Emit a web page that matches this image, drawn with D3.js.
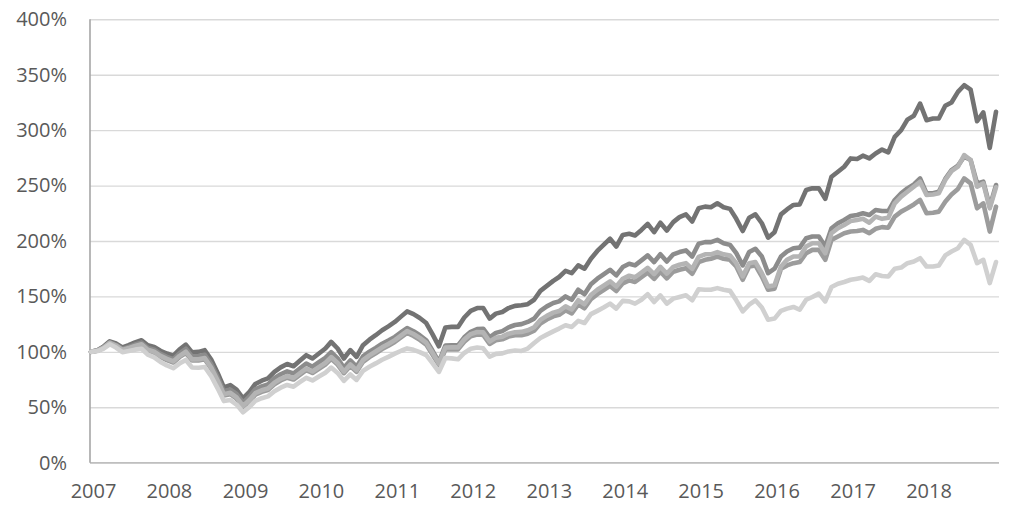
<!DOCTYPE html>
<html><head><meta charset="utf-8">
<script src="https://cdn.jsdelivr.net/npm/d3@7"></script>
<style>html,body{margin:0;background:#fff;}svg{display:block;}</style>
</head><body>
<svg id="chart" width="1024" height="512"></svg>
<script>
// Tick values
const yTicks = [0, 50, 100, 150, 200, 250, 300, 350, 400];
const yearLabels = [2007, 2008, 2009, 2010, 2011, 2012, 2013, 2014, 2015, 2016, 2017, 2018];

// Monthly series, Jan 2007 .. Dec 2018 (%)
const seriesA = [100,101.5,104.5,109.5,107.5,104,106,108.5,110.5,106,104.5,101,
98.5,96.5,102,106.5,99.5,100,101.5,93,81,68,70,66,
58,64,71,74,76,82,86,89,87,92,97,94,
98.5,103,109,103,94,101.5,95.5,106,111,115,119.5,123,
127,132,136.5,134,130.5,126,116,105,122,122.5,122.5,131,
137,139.5,139.5,130,134.5,136,139.5,141.5,142,143,147,155,
159.5,164,167.5,173,171,178,175,184,191,196.5,202,195,
205.5,206.5,205,210,215.5,208,216.5,209.5,217,221.5,224,217.5,
229.5,231,230.5,234,230.5,229,220,209,221,224,216,203,
208,224,228.5,232.5,233,246,247.5,247.5,238,258,262.5,267,
274.5,274,277,274.5,279,282.5,280,294,300,309.5,313,324,
309,310.5,310.5,322,325,334.5,340.5,336.5,308,316,284,316.5];

const seriesB = [100,101.2,104,108.7,106.4,102.7,104.4,106.6,108.3,103.6,101.9,98.2,
95.5,93.4,98.6,102.8,95.8,96.2,97.4,88.9,77.1,64.4,66,62,
54.2,59.8,66.2,68.9,70.7,76.2,79.8,82.4,80.5,85,89.5,86.6,
90.6,94.6,99.8,94.1,85.6,92.3,86.6,95.9,100.2,103.6,107.3,110.2,
113.5,117.7,121.5,118.6,115,110.4,101.2,91,105.7,106,105.8,113.1,
118.1,120.5,120.9,113,117.1,118.7,122.1,124.2,125,127,130,137,
141,144,145.5,150,147,156,152,161,166,170,174,169,
176.5,179.5,178,182.5,187,181,188,181.5,188,190,191.5,186,
197.5,199,199,201,198,196.5,189,178,190,193,186,171,
175,186,190.5,193.5,194,202.5,204,204,195,211.5,216,219,
222.5,223.5,225,223.5,228,227,227,237,243,247.5,251,256.5,
243,243,244.5,256,264,268,276,273,252,253.5,231,250.5];

const seriesC = [100,101.1,103.6,108.1,105.7,101.8,103.4,105.4,106.8,102,100.1,96.4,
93.6,91.4,96.2,100.1,93.2,93.3,94.4,85.8,74.1,61.7,63,58.9,
51.3,56.6,62.7,65.3,67,72.2,75.7,78.2,76.4,80.7,85,82.3,
86.2,90.1,95.3,90,82.1,88.6,83.4,92.5,96.8,100.3,104.1,107.1,
110.6,114.9,118.8,116.1,112.6,108.3,99.2,89.5,103.8,104.1,104,111.1,
116,117.9,117.6,109.3,112.8,113.7,116.4,117.7,118,119.4,122.2,128.8,
132.5,135.4,136.8,141,138.2,146.6,142.9,151.3,156,159.8,163.6,158.9,
165.9,168.7,167.3,171.6,175.8,170.1,176.7,170.6,176.7,178.6,180,174.8,
185.7,188,188,190,188,187,180,168,180,181,171,159,
160,177,183,186,186,195,198,198,189,207,211.5,214.5,
218,219,220,216.5,222,220,221,234,240,244.5,249,253.5,
241.5,242,243,255,263,267,277.5,273,249,252,229.5,248.5];

const seriesE = [100,101,103.5,107.9,105.4,101.4,102.8,104.7,106.1,101.2,99.3,95.4,
92.6,90.4,95.2,99,92.2,92.3,93.4,84.7,73,60.7,61.8,57.7,
50.2,55.3,61.4,63.9,65.6,70.8,74.2,76.7,75,79.2,83.5,80.9,
84.7,88.6,93.7,88.5,80.8,87.2,82,91,95.3,98.7,102.5,105.5,
108.9,113.2,117,114.3,110.8,106.5,97.6,88,102.1,102.4,102.2,109.1,
114,115.7,115.3,107.1,110.4,111.3,113.8,115,115,116.4,119.1,125.6,
129.2,132,133.4,137.5,134.7,142.9,139.3,147.5,152.1,155.8,159.5,154.9,
161.8,164.5,163.1,167.3,171.4,165.8,172.3,166.3,172.3,174.1,175.5,170.4,
181,183,184,186,184,183,177,165,177,178,168,156,
157,175,178,180,181,189,192,192,183,201,204,207,
208.5,209,210,207,211,212.5,212,222,226.5,229.5,233,237,
225,225.5,226.5,235.5,242,247,256.5,252,229.5,234,208.5,231];

const seriesD = [100,100.7,102.8,106.8,103.9,99.7,100.7,102,102.8,97.5,95.1,90.9,
87.7,85.2,89.4,92.7,85.9,85.7,86.3,78,67.1,55.6,56.5,52.5,
45.5,50.3,55.8,58.2,59.8,64.5,67.7,70.1,68.6,72.6,76.6,74.2,
77.8,81.2,85.8,81,73.8,79.6,74.7,82.8,86.6,89.6,92.9,95.5,
98.4,101,103.1,101.8,99.8,97,89.9,81.9,94.4,94.1,93.3,99,
102.8,103.9,103.2,95.6,98.2,98.6,100.4,101.2,100.8,103,108,112.5,
115.5,118.5,121,124,122.5,128,126,134,137,140,143.5,139,
146,145.5,143.5,147,152,145,151,143.5,148,149.5,151,146.5,
156.5,156,156,157.5,156,155,146.5,136.5,142.5,146.5,140,129,
130,137,139,140.5,138,147,149.5,152.5,145.5,158.5,161.5,163,
165,166,167,164,170,168.5,168,175,176,180,181.5,184.5,
177,177,178,187,190.5,193.5,201,196.5,180,183,162,181];

const seriesList = [
  {values: seriesA, color: "#737373"},
  {values: seriesB, color: "#8c8c8c"},
  {values: seriesE, color: "#9c9c9c"},
  {values: seriesC, color: "#b4b4b4"},
  {values: seriesD, color: "#d0d0d0"}
];

const months = d3.timeMonth.range(new Date(2007, 0, 1), new Date(2019, 0, 1));
const yearDates = yearLabels.map(yr => new Date(yr, 0, 1));

const svg = d3.select("#chart");
const plotLeft = 90, plotRight = 999, plotTop = 19.3, plotBottom = 462.7;
const x = d3.scaleTime().domain([months[0], months[months.length - 1]]).range([91, 996]);
const y = d3.scaleLinear().domain([0, 400]).range([plotBottom, plotTop]);
const font = "'Open Sans', sans-serif";

// gridlines + y labels
const gy = svg.append("g").attr("transform", `translate(${plotLeft},0)`)
  .call(d3.axisLeft(y).tickValues(yTicks).tickSize(-(plotRight - plotLeft)).tickPadding(23)
    .tickFormat(d => d + "%"));
gy.select(".domain").remove();
gy.selectAll(".tick line").attr("stroke", "#d9d9d9").attr("stroke-width", 1.4);
gy.selectAll(".tick text").attr("fill", "#595959").style("font-family", font).style("font-size", "20px");

// x axis
const gx = svg.append("g").attr("transform", `translate(0,${plotBottom})`)
  .call(d3.axisBottom(x).tickValues(yearDates).tickSize(0).tickPadding(21)
    .tickFormat(d3.timeFormat("%Y")));
gx.select(".domain").attr("d", `M${plotLeft},0H${plotRight}`).attr("stroke", "#bfbfbf").attr("stroke-width", 1.5);
gx.selectAll(".tick text").attr("fill", "#595959").attr("dx", 2).style("font-family", font).style("font-size", "20px");

// left axis line
svg.append("line").attr("x1", plotLeft).attr("x2", plotLeft).attr("y1", y(400)).attr("y2", y(0))
  .attr("stroke", "#a6a6a6").attr("stroke-width", 1.6);

const line = d3.line().x((d, i) => x(months[i])).y(d => y(d));
svg.append("g").selectAll("path").data(seriesList).join("path")
  .attr("d", s => line(s.values))
  .attr("fill", "none")
  .attr("stroke", s => s.color)
  .attr("stroke-width", 4.6)
  .attr("stroke-linejoin", "round")
  .attr("stroke-linecap", "round");
</script>
</body></html>
